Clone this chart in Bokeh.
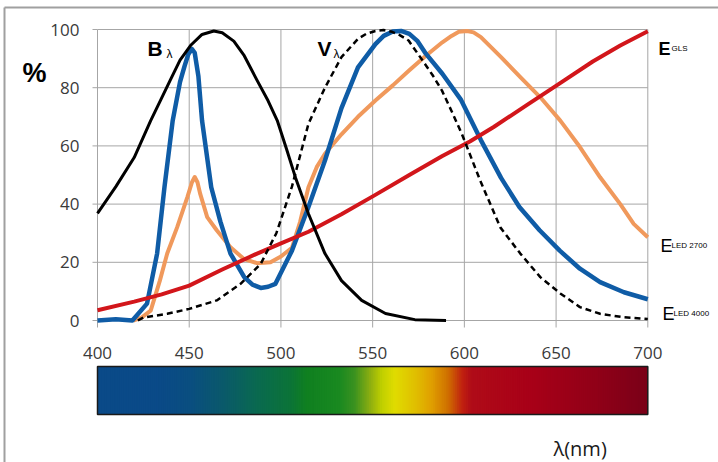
import numpy as np
from bokeh.plotting import figure
from bokeh.models import Range1d, Label, ColumnDataSource
from bokeh.core.properties import value
from bokeh.embed import file_html
from bokeh.resources import INLINE

# ---------------- data ----------------
x_ticks = [400, 450, 500, 550, 600, 650, 700]
y_ticks = [0, 20, 40, 60, 80, 100]

# B_lambda (blue-light hazard), black
wl_b = [400, 410, 420, 429, 435, 440, 445, 450.7, 457, 463.4, 468, 474.3, 480, 487, 493, 498, 503, 508,
        515, 524, 533, 544, 557, 573, 590]
val_b = [36.8, 46, 56, 68.7, 76.5, 83, 89.5, 94.5, 98.3, 99.5, 98.9, 96, 91, 82.5, 75.5, 68.7, 59, 49,
         36.7, 23, 13.7, 6.9, 2.4, 0.3, 0]

# V_lambda (photopic), dashed black
wl_v = [422, 425, 438, 450, 465, 478, 489, 497.5, 506, 515, 524, 533, 542, 546.5, 551.5, 556, 560.6,
        565, 569.6, 578.7, 583, 587.8, 593, 598.7, 608.7, 619.6, 630.5, 641.4, 652.3, 663, 674, 686.8, 700]
val_v = [0, 1, 2.3, 4, 6.9, 12.6, 19.5, 30, 46, 67.6, 80, 90.5, 96.8, 98.5, 99.5, 99.8, 99.2,
         98, 96.2, 88, 84, 79, 72, 64, 48, 32, 23, 14.9, 9.3, 4.6, 2.3, 1.1, 0.5]

# E_LED 4000, blue
wl_l4 = [400, 410, 419, 427, 432.5, 436.5, 441, 445, 447.5, 449.5, 451.5, 453, 455, 457, 462, 467, 472.5,
         480, 484.5, 489, 493, 497, 506, 515, 524, 533, 542, 551.5, 556, 561, 565.5, 570, 574.5, 579,
         588, 598, 609, 620, 630, 641, 652, 663, 674, 687, 700]
val_l4 = [0, 0.4, 0, 5.8, 23, 45.8, 68.7, 82, 87.5, 91.5, 93.3, 92, 84, 68.7, 45.8, 34, 23,
          14.9, 12.3, 11.2, 11.6, 12.6, 24, 39, 55, 73, 87, 95, 97.8, 99.3, 99.5, 98.5, 96, 91.7,
          84.8, 76, 62, 49, 39, 31, 24, 17.8, 13.2, 9.7, 7.3]

# E_LED 2700, orange
wl_l27 = [419.5, 424, 429, 434, 438, 443.4, 449, 451.5, 453, 454.5, 456, 459.8, 465, 472.5, 479.7, 487,
          494.3, 500, 506, 510.5, 515, 519.5, 524, 533, 542, 551.5, 561, 570, 579, 588, 593, 597, 601.5,
          605, 609, 620, 630.5, 641.4, 652.3, 663, 674, 685, 692.3, 700]
val_l27 = [0, 1, 3.4, 13.7, 23, 32, 42.4, 47.5, 49.3, 47.5, 43.5, 35.5, 31, 25.2, 21.2, 19.7,
           20, 22, 25, 34, 45.8, 52.7, 57.3, 64, 70, 75.6, 80.8, 86, 91, 95.6, 97.8, 99.2, 99.5,
           99, 97.4, 90.5, 83.6, 76.7, 68.7, 59.6, 49.2, 40, 33.2, 28.6]

# E_GLS, red
wl_gls = [400, 420, 435, 450, 468, 487, 500, 515, 533, 551, 570, 588, 603, 616, 634, 652, 670, 685, 700]
val_gls = [3.5, 6.5, 9, 12, 17.5, 23, 26.5, 30.5, 36.5, 43, 50, 56.5, 61.5, 66.5, 74, 81.5, 89, 94.5, 99.4]

# spectrum colour stops
sp_wl = [400, 433, 451, 469, 487, 505, 514, 532, 540, 549, 555, 562, 573, 582, 591, 599, 604, 637, 673, 700]
sp_col = ["#0a4a88", "#0a4a88", "#0b4f80", "#0a5a6a", "#0a6a50", "#0c7438", "#108020", "#1a8a20",
          "#3a9220", "#90b010", "#c0d000", "#e0dc00", "#e0c000", "#e0a000", "#d07000", "#c02010",
          "#b00c18", "#a80018", "#900018", "#7a0018"]

# ---------------- layout (pixel placement of the plot area) ----------------
W, H = 718, 462
PX_X0, PX_X1 = 97.0, 647.3     # pixel x of 400 nm and 700 nm
PX_Y0, PX_Y1 = 320.0, 29.0     # pixel y of 0 % and 100 %
KX = (PX_X1 - PX_X0) / (x_ticks[-1] - x_ticks[0])
KY = (PX_Y0 - PX_Y1) / (y_ticks[-1] - y_ticks[0])

def X(px):
    return x_ticks[0] + (px - PX_X0) / KX

def Y(py):
    return y_ticks[0] + (PX_Y0 - py) / KY

GRID = "#a6a6a6"
TICK_FONT = "Open Sans"

p = figure(width=W, height=H, x_range=Range1d(X(0), X(W)), y_range=Range1d(Y(H), Y(0)),
           output_backend="svg", toolbar_location=None,
           min_border_left=0, min_border_right=0, min_border_top=0, min_border_bottom=0)
p.axis.visible = False
p.grid.visible = False
p.outline_line_color = None
p.background_fill_color = "white"
p.border_fill_color = "white"

# outer frame lines of the picture
p.segment(x0=[X(4), X(4)], y0=[Y(7), Y(7)], x1=[X(4), X(W)], y1=[Y(H), Y(7)],
          line_color="#a0a0a0", line_width=2)

# grid
xt0, xt1 = x_ticks[0], x_ticks[-1]
yt0, yt1 = y_ticks[0], y_ticks[-1]
p.segment(x0=x_ticks, y0=[yt0] * len(x_ticks), x1=x_ticks, y1=[yt1] * len(x_ticks),
          line_color=GRID, line_width=1)
p.segment(x0=[xt0] * len(y_ticks), y0=y_ticks, x1=[xt1] * len(y_ticks), y1=y_ticks,
          line_color=GRID, line_width=1)
# tick marks
p.segment(x0=x_ticks, y0=[yt0] * len(x_ticks), x1=x_ticks, y1=[Y(PX_Y0 + 7)] * len(x_ticks),
          line_color=GRID, line_width=1)
p.segment(x0=[xt0] * len(y_ticks), y0=y_ticks, x1=[X(PX_X0 - 5)] * len(y_ticks), y1=y_ticks,
          line_color=GRID, line_width=1)

# tick labels
xsrc = ColumnDataSource(dict(x=x_ticks, y=[Y(352)] * len(x_ticks), t=[str(v) for v in x_ticks]))
p.text(x="x", y="y", text="t", source=xsrc, text_font=value(TICK_FONT), text_font_size="17px",
       text_color="#3a3a3a", text_align="center", text_baseline="middle")
ysrc = ColumnDataSource(dict(x=[X(79)] * len(y_ticks), y=y_ticks, t=[str(v) for v in y_ticks]))
p.text(x="x", y="y", text="t", source=ysrc, text_font=value(TICK_FONT), text_font_size="17px",
       text_color="#3a3a3a", text_align="right", text_baseline="middle")

# curves
p.line(wl_l27, val_l27, line_color="#f0995c", line_width=4, line_join="round")
p.line(wl_l4, val_l4, line_color="#0f5ca6", line_width=4.5, line_join="round")
p.line(wl_gls, val_gls, line_color="#d2161b", line_width=4, line_join="round")
p.line(wl_b, val_b, line_color="#000000", line_width=3, line_join="round")
p.line(wl_v, val_v, line_color="#000000", line_width=2.5, line_dash="6 4", line_join="round")

# labels (placed in pixels)
def lab(px, py, t, size, bold=False, font="Liberation Sans", color="#000000", baseline="alphabetic"):
    p.add_layout(Label(x=X(px), y=Y(py), text=t, text_font=font, text_font_size=size,
                       text_font_style="bold" if bold else "normal", text_color=color,
                       text_baseline=baseline, text_align="left"))

lab(22, 72, "%", "27px", bold=True)
lab(147, 48, "B", "21px", bold=True)
lab(166, 53, "λ", "12px")
lab(317, 48, "V", "21px", bold=True)
lab(333, 53, "λ", "12px")
lab(658, 48, "E", "18px", bold=True)
lab(671, 48, "GLS", "8px")
lab(660, 245, "E", "18px")
lab(671, 245, "LED 2700", "8px")
lab(662, 313, "E", "18px")
lab(673, 313, "LED 4000", "8px")

# ---------------- spectrum bar ----------------
def hex2rgb(h):
    return [int(h[i:i + 2], 16) for i in (1, 3, 5)]

stops = np.array([hex2rgb(c) for c in sp_col], dtype=float)
lefts = np.arange(sp_wl[0], sp_wl[-1], 1.0)
mids = lefts + 0.5
cols = []
for m in mids:
    r = np.interp(m, sp_wl, stops[:, 0])
    g = np.interp(m, sp_wl, stops[:, 1])
    b = np.interp(m, sp_wl, stops[:, 2])
    cols.append("#%02x%02x%02x" % (int(r), int(g), int(b)))
bar_top, bar_bot = Y(366), Y(414)
p.quad(left=lefts, right=np.minimum(lefts + 1.6, sp_wl[-1]), top=bar_top, bottom=bar_bot,
       fill_color=cols, line_color=None)
p.quad(left=[sp_wl[0]], right=[sp_wl[-1]], top=[bar_top], bottom=[bar_bot], fill_color=None,
       line_color="#1a1a1a", line_width=1.5)

lab(553, 448, "λ(nm)", "20px", font="Open Sans", color="#1a1a1a", baseline="middle")

open("out.html", "w").write(file_html(p, INLINE))
